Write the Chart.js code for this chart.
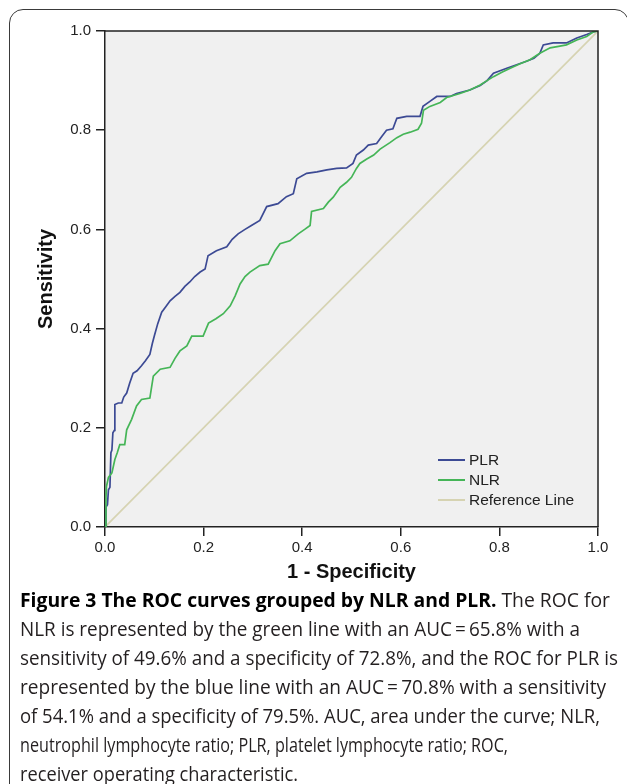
<!DOCTYPE html>
<html>
<head>
<meta charset="utf-8">
<script src="https://cdn.jsdelivr.net/npm/chart.js@4.4.1/dist/chart.umd.min.js"></script>
<style>
  html, body { margin: 0; padding: 0; background: #fff; }
  body { width: 627px; height: 784px; position: relative; overflow: hidden; }
  #frame { position: absolute; left: 9px; top: 9px; width: 620px; height: 820px; border: 1.5px solid #3a3a3a; border-radius: 14px; box-sizing: border-box; }
  #plot { position: absolute; left: 0; top: 0; }
  #caption { position: absolute; left: 20px; top: 585px; font-family: "Open Sans", sans-serif; font-size: 19.5px; line-height: 29px; color: #231f20; }
  #caption div { white-space: nowrap; transform-origin: 0 50%; }
  #caption b { color: #000; }
</style>
</head>
<body>
<div id="frame"></div>
<canvas id="plot" width="627" height="590"></canvas>
<div id="caption">
  <div><span><b>Figure 3 The ROC curves grouped by NLR and PLR.</b> The ROC for</span></div>
  <div><span>NLR is represented by the green line with an AUC&#8201;=&#8201;65.8% with a</span></div>
  <div><span>sensitivity of 49.6% and a specificity of 72.8%, and the ROC for PLR is</span></div>
  <div><span>represented by the blue line with an AUC&#8201;=&#8201;70.8% with a sensitivity</span></div>
  <div><span>of 54.1% and a specificity of 79.5%. AUC, area under the curve; NLR,</span></div>
  <div><span>neutrophil lymphocyte ratio; PLR, platelet lymphocyte ratio; ROC,</span></div>
  <div><span>receiver operating characteristic.</span></div>
</div>
<script>
// ROC points (1 - specificity, sensitivity)
const plrFpr = [0, 0.002, 0.005, 0.007, 0.01, 0.012, 0.014, 0.016, 0.019, 0.02, 0.027, 0.034, 0.038, 0.044, 0.05, 0.057, 0.065, 0.074, 0.082, 0.091, 0.096, 0.1, 0.107, 0.115, 0.124, 0.132, 0.142, 0.152, 0.162, 0.172, 0.182, 0.193, 0.203, 0.209, 0.226, 0.247, 0.258, 0.27, 0.284, 0.297, 0.314, 0.328, 0.351, 0.368, 0.382, 0.389, 0.409, 0.43, 0.45, 0.47, 0.49, 0.503, 0.51, 0.524, 0.534, 0.551, 0.561, 0.571, 0.584, 0.592, 0.612, 0.639, 0.645, 0.659, 0.673, 0.7, 0.713, 0.74, 0.761, 0.775, 0.788, 0.815, 0.835, 0.855, 0.87, 0.882, 0.889, 0.909, 0.936, 0.957, 0.977, 0.99, 1];
const plrTpr = [0, 0.04, 0.045, 0.075, 0.08, 0.15, 0.155, 0.19, 0.195, 0.247, 0.25, 0.25, 0.262, 0.27, 0.29, 0.31, 0.315, 0.325, 0.335, 0.348, 0.37, 0.385, 0.41, 0.433, 0.445, 0.456, 0.465, 0.473, 0.485, 0.494, 0.505, 0.514, 0.52, 0.547, 0.557, 0.565, 0.58, 0.591, 0.6, 0.608, 0.618, 0.646, 0.652, 0.666, 0.672, 0.702, 0.713, 0.716, 0.72, 0.723, 0.724, 0.733, 0.75, 0.76, 0.77, 0.773, 0.787, 0.8, 0.803, 0.824, 0.828, 0.828, 0.848, 0.858, 0.868, 0.868, 0.874, 0.881, 0.89, 0.9, 0.915, 0.925, 0.932, 0.939, 0.945, 0.955, 0.972, 0.976, 0.976, 0.986, 0.993, 0.998, 1];

const nlrFpr = [0, 0.002, 0.003, 0.007, 0.014, 0.02, 0.025, 0.03, 0.04, 0.044, 0.054, 0.064, 0.074, 0.091, 0.098, 0.112, 0.132, 0.142, 0.152, 0.166, 0.176, 0.199, 0.21, 0.225, 0.24, 0.254, 0.264, 0.274, 0.284, 0.294, 0.314, 0.331, 0.345, 0.355, 0.375, 0.392, 0.405, 0.416, 0.419, 0.443, 0.453, 0.463, 0.477, 0.49, 0.5, 0.51, 0.517, 0.531, 0.545, 0.558, 0.578, 0.592, 0.605, 0.619, 0.635, 0.642, 0.646, 0.659, 0.68, 0.693, 0.72, 0.74, 0.761, 0.775, 0.788, 0.805, 0.822, 0.842, 0.862, 0.882, 0.903, 0.92, 0.936, 0.957, 0.977, 0.99, 1];
const nlrTpr = [0, 0.06, 0.082, 0.1, 0.109, 0.136, 0.15, 0.166, 0.166, 0.196, 0.217, 0.244, 0.257, 0.26, 0.304, 0.318, 0.322, 0.34, 0.355, 0.365, 0.385, 0.385, 0.411, 0.42, 0.43, 0.446, 0.466, 0.49, 0.505, 0.514, 0.527, 0.53, 0.557, 0.571, 0.577, 0.591, 0.6, 0.608, 0.636, 0.642, 0.655, 0.665, 0.685, 0.695, 0.705, 0.723, 0.733, 0.742, 0.75, 0.762, 0.775, 0.785, 0.792, 0.796, 0.802, 0.814, 0.84, 0.848, 0.856, 0.866, 0.874, 0.881, 0.891, 0.9, 0.908, 0.917, 0.925, 0.934, 0.942, 0.955, 0.966, 0.969, 0.972, 0.982, 0.989, 0.998, 1];

const refFpr = [0, 1];
const refTpr = [0, 1];

const axisTicks = [0, 0.2, 0.4, 0.6, 0.8, 1.0];
const seriesNames = ['PLR', 'NLR', 'Reference Line'];
const seriesColors = ['#3c4a94', '#45b557', '#d6d3b2'];

function toPoints(xs, ys) {
  return xs.map((x, i) => ({ x: x, y: ys[i] }));
}

const axisFont = { family: '"Liberation Sans", Arial, sans-serif', size: 15 };
const titleFont = { family: '"Liberation Sans", Arial, sans-serif', size: 20, weight: 'bold' };

// grey plot panel, top/right frame and the legend inside the plot
const plotFrame = {
  id: 'plotFrame',
  beforeDraw(chart) {
    const { ctx, chartArea: a } = chart;
    ctx.save();
    ctx.fillStyle = '#f0f0f0';
    ctx.fillRect(a.left, a.top, a.width, a.height);
    ctx.restore();
  },
  afterDraw(chart) {
    const { ctx, chartArea: a } = chart;
    ctx.save();
    ctx.strokeStyle = '#222';
    ctx.lineWidth = 1.5;
    ctx.beginPath();
    ctx.moveTo(a.left, a.top);
    ctx.lineTo(a.right, a.top);
    ctx.lineTo(a.right, a.bottom);
    ctx.stroke();

    ctx.font = '15.5px "Liberation Sans", Arial, sans-serif';
    ctx.textBaseline = 'middle';
    ctx.fillStyle = '#222';
    chart.data.datasets.forEach((ds, i) => {
      const y = a.bottom - 67 + i * 20;
      ctx.strokeStyle = ds.borderColor;
      ctx.lineWidth = 2;
      ctx.beginPath();
      ctx.moveTo(a.right - 160, y);
      ctx.lineTo(a.right - 133, y);
      ctx.stroke();
      ctx.fillText(ds.label, a.right - 129, y + 1);
    });
    ctx.restore();
  }
};

function axis(title, fitSide) {
  return {
    type: 'linear',
    min: 0,
    max: 1,
    afterBuildTicks: s => { s.ticks = axisTicks.map(v => ({ value: v })); },
    ticks: { font: axisFont, color: '#222', padding: fitSide === 'y' ? 5 : 3, callback: v => v.toFixed(1) },
    grid: { drawOnChartArea: false, drawTicks: true, tickLength: 9, color: '#222', lineWidth: 1.5 },
    border: { display: true, color: '#222', width: 1.5 },
    title: {
      display: true,
      text: title,
      font: titleFont,
      color: '#111',
      padding: fitSide === 'y' ? { top: 34 } : { bottom: 6 }
    },
    afterFit: s => {
      if (fitSide === 'y') s.width = 105;
      else s.height = 63;
    }
  };
}

new Chart(document.getElementById('plot'), {
  type: 'scatter',
  data: {
    datasets: [
      { label: seriesNames[0], data: toPoints(plrFpr, plrTpr), borderColor: seriesColors[0], order: 1 },
      { label: seriesNames[1], data: toPoints(nlrFpr, nlrTpr), borderColor: seriesColors[1], order: 0 },
      { label: seriesNames[2], data: toPoints(refFpr, refTpr), borderColor: seriesColors[2], order: 2 }
    ].map(ds => Object.assign(ds, { showLine: true, pointRadius: 0, borderWidth: 1.7, tension: 0, fill: false }))
  },
  options: {
    responsive: false,
    animation: false,
    layout: { padding: { top: 31, right: 29, bottom: 0, left: 0 } },
    plugins: { legend: { display: false }, tooltip: { enabled: false } },
    scales: {
      x: axis('1 - Specificity', 'x'),
      y: axis('Sensitivity', 'y')
    }
  },
  plugins: [plotFrame]
});

// squeeze each caption line to the width it has in the figure
const captionRight = [610, 580, 618, 606, 600, 508, 298];
document.querySelectorAll('#caption div').forEach((el, i) => {
  const w = el.firstElementChild.getBoundingClientRect().width;
  el.style.transform = 'scaleX(' + ((captionRight[i] - 20) / w).toFixed(4) + ')';
});
</script>
</body>
</html>
